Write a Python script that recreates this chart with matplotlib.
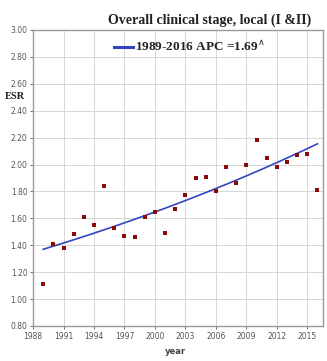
import matplotlib
matplotlib.use('agg')
import matplotlib.pyplot as plt
import numpy as np

# observed rates by year
years = np.arange(1989, 2017)
esr = [1.11, 1.41, 1.38, 1.48, 1.61, 1.55, 1.84, 1.53, 1.47, 1.46,
       1.61, 1.65, 1.49, 1.67, 1.77, 1.90, 1.91, 1.80, 1.98, 1.86,
       2.00, 2.18, 2.05, 1.98, 2.02, 2.07, 2.08, 1.81]

# joinpoint fit: single segment, annual percent change
fit_start = 1.37
apc = 1.69

x_ticks = [1988, 1991, 1994, 1997, 2000, 2003, 2006, 2009, 2012, 2015]
y_ticks = [0.8, 1.0, 1.2, 1.4, 1.6, 1.8, 2.0, 2.2, 2.4, 2.6, 2.8, 3.0]

fig = plt.figure(figsize=(3.27, 3.61), dpi=100)
ax = fig.add_axes([0.101, 0.097, 0.887, 0.82])

fit = fit_start * (1 + apc / 100) ** (years - years[0])
ax.plot(years, fit, color='#3346c0', lw=1.2, zorder=3)
ax.scatter(years, esr, marker='s', s=9, color='#8b0a0a', zorder=4, linewidths=0)

ax.set_xlim(1988, 2016.55)
ax.set_ylim(0.8, 3.0)
ax.set_xticks(x_ticks)
ax.set_yticks(y_ticks)
ax.set_xticklabels([str(t) for t in x_ticks])
ax.set_yticklabels(['%.2f' % t for t in y_ticks])
ax.tick_params(labelsize=5.5, colors='#555555', length=2, width=0.6, pad=2)
ax.grid(True, color='#d6d6d6', lw=0.7)
ax.set_axisbelow(True)
for s in ax.spines.values():
    s.set_color('#9a9a9a')
    s.set_linewidth(1.0)

serif = ['Liberation Serif', 'DejaVu Serif']
fig.text(0.64, 0.945, 'Overall clinical stage, local (I &II)', ha='center', va='center',
         fontsize=10, fontweight='bold', family=serif, color='#222222')

# legend entry drawn by hand inside the top of the axes
ax.plot([1996.0, 1997.8], [2.875, 2.875], color='#3346c0', lw=2.2, clip_on=False)
ax.text(1998.0, 2.875, r'1989-2016 APC =1.69$^{\wedge}$', ha='left', va='center',
        fontsize=9.5, fontweight='bold', family=serif, color='#222222')

fig.text(0.045, 0.732, 'ESR', ha='center', va='center', fontsize=7.5,
         fontweight='bold', family=serif, color='#222222')
fig.text(0.535, 0.025, 'year', ha='center', va='center', fontsize=6,
         fontweight='bold', color='#444444')

fig.savefig('out.png', dpi=100)
